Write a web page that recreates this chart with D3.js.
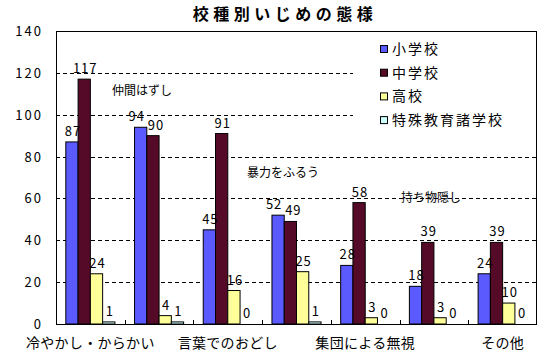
<!DOCTYPE html>
<html><head><meta charset="utf-8">
<script src="https://cdn.jsdelivr.net/npm/d3@7"></script>
<style>
body{margin:0;background:#fff;}
text{font-family:"Noto Sans CJK JP","Noto Sans",sans-serif;fill:#000;}
</style></head><body>
<svg id="c" width="546" height="355"></svg>
<script>
const title = "校種別いじめの態様";
const categories = ["冷やかし・からかい","仲間はずし","言葉でのおどし","暴力をふるう","集団による無視","持ち物隠し","その他"];
const seriesNames = ["小学校","中学校","高校","特殊教育諸学校"];
const elementary = [87, 94, 45, 52, 28, 18, 24];
const juniorHigh = [117, 90, 91, 49, 58, 39, 39];
const highSchool = [24, 4, 16, 25, 3, 3, 10];
const special = [1, 1, 0, 1, 0, 0, 0];
const yTicks = [0, 20, 40, 60, 80, 100, 120, 140];
const colors = ["#5a5aff", "#550a28", "#ffff99", "#ccffff"];

const series = [elementary, juniorHigh, highSchool, special];
const svg = d3.select("#c");
const L = 56, R = 537, T = 31, B = 324;

const x = d3.scaleBand().domain(categories).range([L, R]).paddingInner(0).paddingOuter(0);
const y = d3.scaleLinear().domain([0, 140]).range([B, T]);
const step = x.bandwidth();
const gapRatio = 1.6;
const bw = step / (4 + gapRatio);
const x1 = d3.scaleBand().domain(d3.range(4)).range([bw * gapRatio / 2, step - bw * gapRatio / 2]);

// gridlines
svg.append("g").selectAll("line").data(yTicks.filter(d => d > 0 && d < 140)).join("line")
  .attr("x1", L).attr("x2", R).attr("y1", d => Math.round(y(d)) + 0.5).attr("y2", d => Math.round(y(d)) + 0.5)
  .attr("stroke", "#000").attr("stroke-dasharray", "4,3");

// y axis labels
svg.append("g").selectAll("text").data(yTicks).join("text")
  .attr("x", 43).attr("y", d => y(d) + 5).attr("text-anchor", "end")
  .attr("font-size", 13).attr("letter-spacing", 2).text(d => d);

// bars
series.forEach((vals, si) => {
  svg.append("g").selectAll("rect").data(vals).join("rect")
    .attr("x", (d, i) => x(categories[i]) + x1(si))
    .attr("y", d => y(d))
    .attr("width", x1.bandwidth())
    .attr("height", d => B - y(d))
    .attr("fill", colors[si])
    .attr("stroke", "#000").attr("stroke-width", 1);
});

// data labels (nudge apart neighbouring labels of similar height)
function nudge(si, i) {
  const v = series[si][i];
  if (si === 0 && Math.abs(v - series[1][i]) <= 5) return -5;
  if (si === 1 && Math.abs(v - series[0][i]) <= 5) return 2;
  return 0;
}
series.forEach((vals, si) => {
  svg.append("g").selectAll("text").data(vals).join("text")
    .attr("x", (d, i) => x(categories[i]) + x1(si) + x1.bandwidth() / 2 + 1 + nudge(si, i))
    .attr("y", d => y(d) - 6)
    .attr("text-anchor", "middle")
    .attr("font-size", 13).attr("letter-spacing", 1)
    .text(d => d);
});

// legend background
svg.append("rect").attr("x", 353).attr("y", 36).attr("width", 183).attr("height", 100).attr("fill", "#fff");
const lg = svg.append("g").selectAll("g").data(seriesNames).join("g")
  .attr("transform", (d, i) => `translate(380,${49 + i * 23.7})`);
lg.append("rect").attr("x", 0.5).attr("y", -3.5).attr("width", 7).attr("height", 7)
  .attr("fill", (d, i) => colors[i]).attr("stroke", "#000");
lg.append("text").attr("x", 12).attr("y", 5).attr("font-size", 14).attr("letter-spacing", 2).text(d => d);

// plot border
svg.append("rect").attr("x", L + 0.5).attr("y", T + 0.5).attr("width", R - L - 1).attr("height", B - T)
  .attr("fill", "none").attr("stroke", "#000");

// x axis ticks (inside, between categories)
svg.append("g").selectAll("line").data(categories.slice(1)).join("line")
  .attr("x1", d => Math.round(x(d)) + 0.5).attr("x2", d => Math.round(x(d)) + 0.5)
  .attr("y1", B).attr("y2", B - 4).attr("stroke", "#000");

// category labels: alternate ones on axis, others floating inside plot
const onAxis = [0, 2, 4, 6];
svg.append("g").selectAll("text").data(onAxis).join("text")
  .attr("x", i => x(categories[i]) + step / 2)
  .attr("y", 348).attr("text-anchor", "middle")
  .attr("font-size", 14).attr("letter-spacing", 0.3).text(i => categories[i]);
const floating = [[1, 142, 95], [3, 283, 177], [5, 431, 202]];
svg.append("g").selectAll("text").data(floating).join("text")
  .attr("x", d => d[1]).attr("y", d => d[2]).attr("text-anchor", "middle")
  .attr("font-size", 12).text(d => categories[d[0]]);

// title
svg.append("text").attr("x", 285).attr("y", 20).attr("text-anchor", "middle")
  .attr("font-size", 16).attr("font-weight", "bold").attr("letter-spacing", 4.5).text(title);
</script>
</body></html>
